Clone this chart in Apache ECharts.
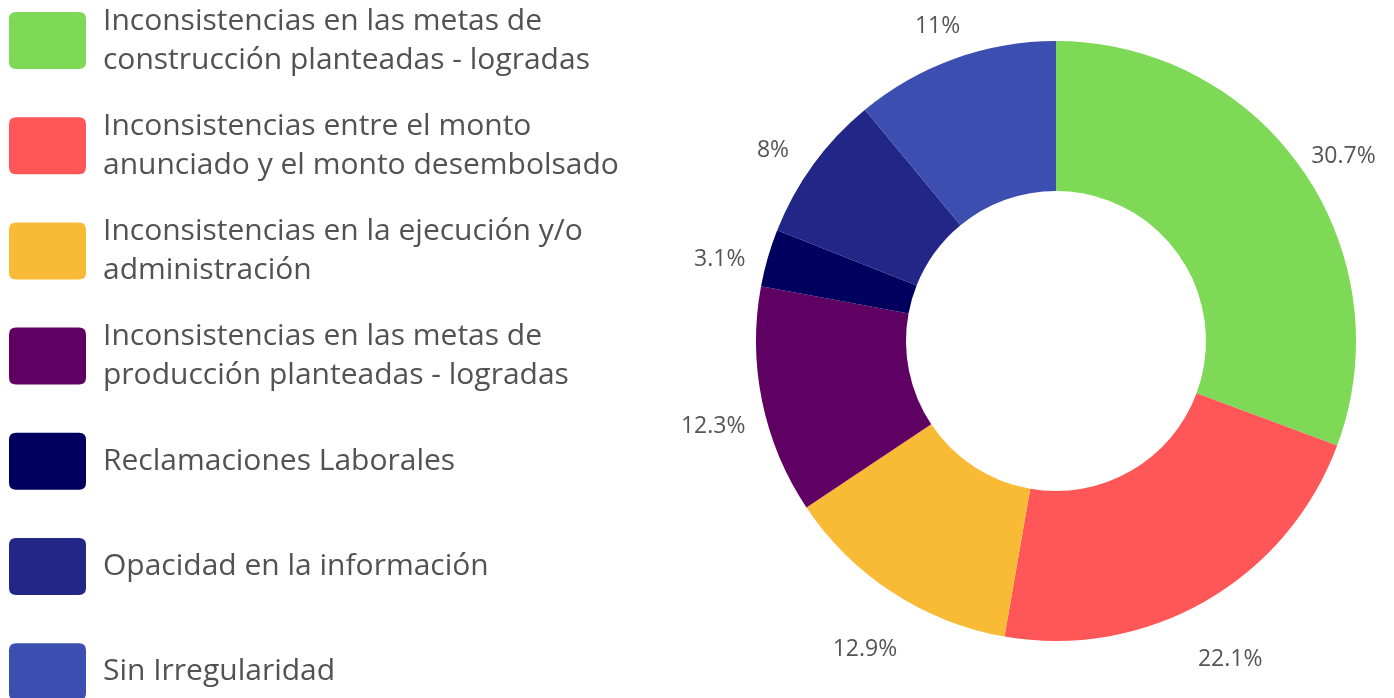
<!DOCTYPE html>
<html>
<head>
<meta charset="utf-8">
<script src="https://cdn.jsdelivr.net/npm/echarts@6/dist/echarts.min.js"></script>
<style>
html,body{margin:0;padding:0;background:#fff;}
#chart{width:1394px;height:698px;}
</style>
</head>
<body>
<div id="chart"></div>
<script>
const categories = [
  'Inconsistencias en las metas de construcción planteadas - logradas',
  'Inconsistencias entre el monto anunciado y el monto desembolsado',
  'Inconsistencias en la ejecución y/o administración',
  'Inconsistencias en las metas de producción planteadas - logradas',
  'Reclamaciones Laborales',
  'Opacidad en la información',
  'Sin Irregularidad'
];
const legendLines = [
  ['Inconsistencias en las metas de', 'construcción planteadas - logradas'],
  ['Inconsistencias entre el monto', 'anunciado y el monto desembolsado'],
  ['Inconsistencias en la ejecución y/o', 'administración'],
  ['Inconsistencias en las metas de', 'producción planteadas - logradas'],
  ['Reclamaciones Laborales'],
  ['Opacidad en la información'],
  ['Sin Irregularidad']
];
const values = [30.7, 22.1, 12.9, 12.3, 3.1, 8, 11];
const colors = ['#7ED957', '#FF5757', '#F9BA36', '#5F0063', '#00005E', '#222787', '#3C4FB1'];

// layout constants
const CX = 1056, CY = 341, R_IN = 150, R_OUT = 300;
const LABEL_R = 350, LABEL_DY = 15;
const ICON_W = 77, ICON_H = 57, LINE_H = 39, TEXT_PAD_TOP = 6;
const LEG_LEFT = 9, LEG_TOP0 = 12, LEG_STEP = 105.2;

const total = values.reduce((a, b) => a + b, 0);
const iconPath = 'path://M7,0 H70 Q77,0 77,7 V50 Q77,57 70,57 H7 Q0,57 0,50 V7 Q0,0 7,0 Z';

const legends = categories.map((name, i) => {
  const textH = legendLines[i].length * LINE_H + TEXT_PAD_TOP;
  const extra = Math.max(0, (textH - ICON_H) / 2);
  return {
    show: true,
    data: [name],
    left: LEG_LEFT,
    top: LEG_TOP0 + i * LEG_STEP - extra,
    padding: 0,
    orient: 'vertical',
    itemWidth: ICON_W,
    itemHeight: ICON_H,
    icon: iconPath,
    selectedMode: false,
    formatter: () => legendLines[i].join('\n'),
    textStyle: {
      fontFamily: 'Open Sans',
      fontSize: 30,
      lineHeight: LINE_H,
      color: '#525252',
      padding: [TEXT_PAD_TOP, 0, 0, 12]
    }
  };
});

const chart = echarts.init(document.getElementById('chart'));
chart.setOption({
  animation: false,
  color: colors,
  legend: legends,
  series: [{
    type: 'pie',
    center: [CX, CY],
    radius: [R_IN, R_OUT],
    startAngle: 90,
    clockwise: true,
    avoidLabelOverlap: false,
    itemStyle: { borderWidth: 0 },
    label: {
      show: true,
      position: 'outside',
      formatter: (p) => p.value + '%',
      fontFamily: 'Open Sans',
      fontSize: 23,
      color: '#555555'
    },
    labelLine: { show: false },
    labelLayout: function (p) {
      const i = p.dataIndex;
      let before = 0;
      for (let j = 0; j < i; j++) before += values[j];
      const mid = (before + values[i] / 2) / total * 2 * Math.PI;
      return {
        x: CX + LABEL_R * Math.sin(mid),
        y: CY + LABEL_DY - LABEL_R * Math.cos(mid),
        align: 'center',
        verticalAlign: 'middle'
      };
    },
    emphasis: { disabled: true },
    data: categories.map((name, i) => ({ name: name, value: values[i] }))
  }]
});
</script>
</body>
</html>
